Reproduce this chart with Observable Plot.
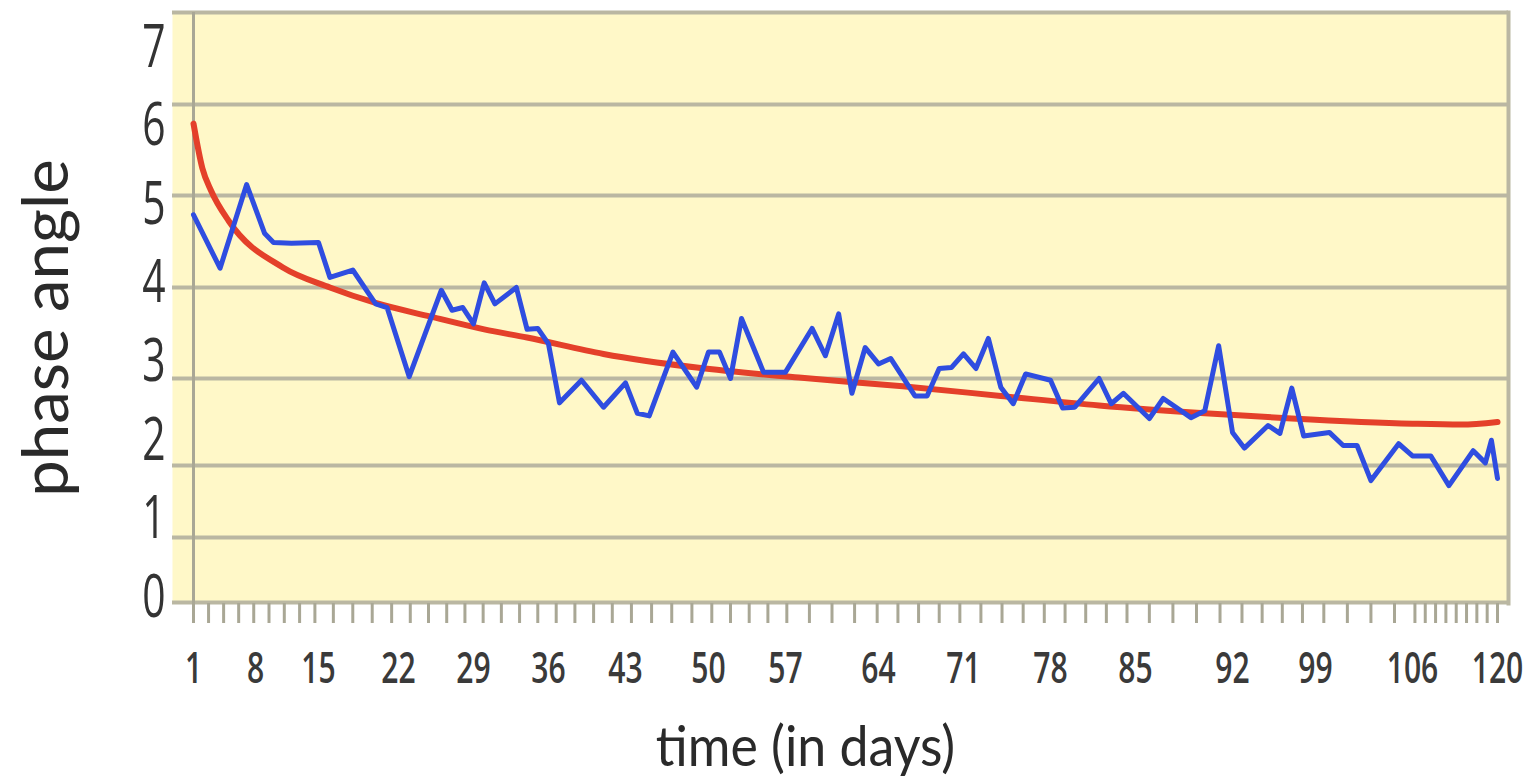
<!DOCTYPE html>
<html>
<head>
<meta charset="utf-8">
<script src="https://cdn.jsdelivr.net/npm/d3@7"></script>
<script src="https://cdn.jsdelivr.net/npm/@observablehq/plot@0.6"></script>
<style>
  body { margin: 0; background: #ffffff; }
  #chart { position: relative; width: 1537px; height: 780px; }
  #chart svg { position: absolute; left: 0; top: 0; }
  #chart svg.overlay { pointer-events: none; }
</style>
</head>
<body>
<div id="chart"></div>
<script>
// x tick labels (days) and y tick values
const xLabelDays = [1, 8, 15, 22, 29, 36, 43, 50, 57, 64, 71, 78, 85, 92, 99, 106, 120];
const yTicks = [0, 1, 2, 3, 4, 5, 6, 7];

// measured phase angle (blue)
const blueDays = [1,4,7,9,10,12,15,16,18,20,21,23,26,27,28,29,30,31,33,34,35,36,37,39,41,43,44,45,47,49,50,51,52,53,55,57,59,60,61,62,63,64,65,67,68,69,70,71,72,73,74,75,76,78,79,80,82,83,84,86,87,89,90,91,92,93,95,96,97,98,100,101,102,103,105,106,109,112,116,118,119,120];
const blueVals = [4.79,4.21,5.12,4.59,4.49,4.48,4.49,4.11,4.19,3.82,3.78,3.02,3.97,3.75,3.78,3.60,4.05,3.82,4.00,3.54,3.55,3.38,2.72,2.98,2.67,2.95,2.60,2.57,3.29,2.90,3.29,3.29,3.00,3.66,3.07,3.07,3.55,3.25,3.71,2.83,3.34,3.16,3.22,2.80,2.80,3.11,3.12,3.27,3.11,3.44,2.90,2.71,3.05,2.98,2.66,2.67,3.00,2.71,2.83,2.54,2.77,2.55,2.63,3.36,2.38,2.20,2.46,2.37,2.89,2.34,2.38,2.23,2.23,1.79,2.25,2.11,2.11,1.72,2.17,2.03,2.29,1.82];

// trend (red)
const redDays = [1,2,3,5,11,16,20,25,30,34,41,49,58,66,74,82,90,97,106,114,120];
const redVals = [5.79,5.30,5.05,4.72,4.22,4.00,3.83,3.68,3.54,3.45,3.27,3.12,3.01,2.91,2.80,2.69,2.60,2.54,2.48,2.47,2.50];

// minor tick marks along the time axis
const minorTicks = d3.range(1, 121, 1.7);

const blue = blueDays.map((d, i) => ({day: d, v: blueVals[i]}));
const red = redDays.map((d, i) => ({day: d, v: redVals[i]}));

const common = {
  width: 1537,
  height: 780,
  marginLeft: 172,
  marginRight: 29,
  marginTop: 12,
  marginBottom: 177
};

const plot = Plot.plot({
  ...common,
  style: {background: "transparent", fontFamily: "'Open Sans', sans-serif", color: "#3a3a3a"},
  x: {type: "linear", label: null, domain: xLabelDays,
      range: [193, 255, 318, 398, 473, 548, 625, 708, 785, 878, 963, 1050, 1135, 1232, 1315, 1412, 1497]},
  y: {type: "linear", label: null, axis: null, domain: yTicks,
      range: [602, 537, 465, 378, 287, 195, 104, 12]},
  marks: [
    Plot.frame({fill: "#FFF8C8"}),
    Plot.ruleY(yTicks, {stroke: "#BAB7A2", strokeWidth: 4}),
    Plot.frame({anchor: "right", stroke: "#BAB7A2", strokeWidth: 4}),
    Plot.ruleX([1], {stroke: "#A9A795", strokeWidth: 3}),
    Plot.axisX(minorTicks, {label: null, tickSize: 20, tickFormat: () => "", stroke: "#A9A795", strokeWidth: 3}),
    Plot.axisX(xLabelDays, {label: null, tickSize: 0, tickPadding: 49, fontSize: 43, fontWeight: 600, fill: "#3a3a3a"}),
    Plot.line(red, {x: "day", y: "v", stroke: "#E4402A", strokeWidth: 6, curve: "monotone-x"}),
    Plot.line(blue, {x: "day", y: "v", stroke: "#2F4DE0", strokeWidth: 5}),
    Plot.text(["phase angle"], {frameAnchor: "left", textAnchor: "middle", rotate: -90, dx: -125, dy: 20, fontSize: 64, fontFamily: "Lato", fill: "#2a2a2a"}),
    Plot.text(["time (in days)"], {frameAnchor: "bottom", dx: -35, dy: 162, fontSize: 57, fontFamily: "Lato", fill: "#2a2a2a"})
  ]
});

// y tick labels: in the reference they sit on an evenly spaced ladder of their own
const labels = Plot.plot({
  ...common,
  style: {background: "transparent", fontFamily: "'Open Sans', sans-serif", color: "#333333"},
  x: {type: "linear", domain: [1, 120], label: null, axis: null},
  y: {type: "linear", label: null, domain: [0, 7], range: [597, 47]},
  marks: [
    Plot.axisY(yTicks, {label: null, tickSize: 0, tickPadding: 7, fontSize: 60, fill: "#333333", tickFormat: d3.format("d")})
  ]
});
labels.classList.add("overlay");

function condenseNodes(nodes, s) {
  nodes.forEach(t => {
    const xa = t.getAttribute("x");
    let tr = t.getAttribute("transform") || "";
    if (xa !== null && !/em$/.test(xa)) {
      tr += ` translate(${parseFloat(xa)},0)`;
      t.removeAttribute("x");
    }
    t.setAttribute("transform", `${tr} scale(${s},1)`);
  });
}
function condense(root, sel, s) { condenseNodes(Array.from(root.querySelectorAll(sel)), s); }
function condenseText(root, content, s) {
  condenseNodes(Array.from(root.querySelectorAll("text")).filter(t => t.textContent === content), s);
}
condense(plot, 'g[aria-label="x-axis tick label"] text', 0.70);
condense(labels, 'g[aria-label="y-axis tick label"] text', 0.68);
condenseText(plot, "phase angle", 1.02);
condenseText(plot, "time (in days)", 0.91);

const host = document.getElementById("chart");
host.appendChild(plot);
host.appendChild(labels);
</script>
</body>
</html>
